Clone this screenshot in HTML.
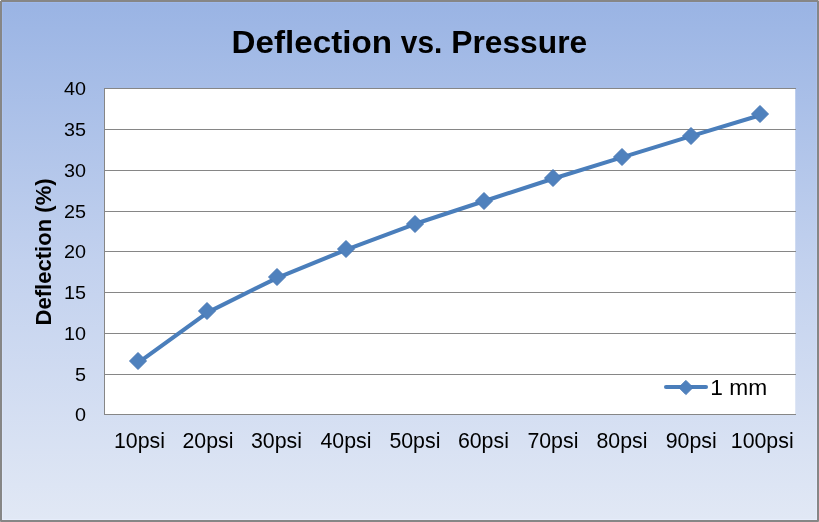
<!DOCTYPE html>
<html lang="en"><head><meta charset="utf-8"><title>Deflection vs. Pressure</title>
<style>
html,body{margin:0;padding:0;background:#fff;}
body{width:819px;height:522px;overflow:hidden;font-family:"Liberation Sans",sans-serif;}
svg{display:block}
text{font-family:"Liberation Sans",sans-serif;fill:#000}
</style></head><body>
<svg width="819" height="522" viewBox="0 0 819 522">
<defs>
<linearGradient id="bg" x1="0" y1="0" x2="0" y2="1">
<stop offset="0" stop-color="#9ab4e4"/>
<stop offset="0.5" stop-color="#c2d1ee"/>
<stop offset="1" stop-color="#e1e8f5"/>
</linearGradient>
<linearGradient id="hl" x1="0" y1="0" x2="0" y2="1">
<stop offset="0" stop-color="#9fb9ea"/>
<stop offset="0.5" stop-color="#c6d5f2"/>
<stop offset="1" stop-color="#e6edfb"/>
</linearGradient>
</defs>
<rect x="0" y="0" width="819" height="522" fill="#868686"/>
<rect x="0" y="0" width="1" height="1" fill="#f0f0f0"/>
<rect x="818" y="0" width="1" height="1" fill="#c8c8c8"/>
<rect x="0" y="521" width="1" height="1" fill="#a0a0a0"/>
<rect x="818" y="521" width="1" height="1" fill="#a0a0a0"/>
<rect x="2" y="2" width="815" height="518" fill="url(#hl)"/>
<rect x="3" y="3" width="813" height="516" fill="url(#bg)"/>
<rect x="104" y="88" width="691.25" height="327" fill="#fff"/>
<line x1="104" y1="88.5" x2="796" y2="88.5" stroke="#868686" stroke-width="1"/>
<line x1="104" y1="129.5" x2="796" y2="129.5" stroke="#868686" stroke-width="1"/>
<line x1="104" y1="170.5" x2="796" y2="170.5" stroke="#868686" stroke-width="1"/>
<line x1="104" y1="211.5" x2="796" y2="211.5" stroke="#868686" stroke-width="1"/>
<line x1="104" y1="251.5" x2="796" y2="251.5" stroke="#868686" stroke-width="1"/>
<line x1="104" y1="292.5" x2="796" y2="292.5" stroke="#868686" stroke-width="1"/>
<line x1="104" y1="333.5" x2="796" y2="333.5" stroke="#868686" stroke-width="1"/>
<line x1="104" y1="374.5" x2="796" y2="374.5" stroke="#868686" stroke-width="1"/>
<line x1="104" y1="414.5" x2="796" y2="414.5" stroke="#868686" stroke-width="1"/>
<line x1="104.5" y1="88" x2="104.5" y2="415" stroke="#868686" stroke-width="1"/>
<polyline points="139.05,362.10 208.15,312.05 277.25,277.80 346.35,249.67 415.45,223.80 484.55,200.93 553.65,178.50 622.75,157.10 691.85,135.90 760.95,115.00" fill="none" stroke="#4a7ebb" stroke-width="4.1" stroke-linejoin="round" stroke-linecap="round"/>
<path d="M138.00,352.50 L146.50,361.00 L138.00,369.50 L129.50,361.00Z" fill="#4f81bd" stroke="#4878b6" stroke-width="1"/>
<path d="M207.00,302.50 L215.50,311.00 L207.00,319.50 L198.50,311.00Z" fill="#4f81bd" stroke="#4878b6" stroke-width="1"/>
<path d="M277.00,268.50 L285.50,277.00 L277.00,285.50 L268.50,277.00Z" fill="#4f81bd" stroke="#4878b6" stroke-width="1"/>
<path d="M346.00,240.50 L354.50,249.00 L346.00,257.50 L337.50,249.00Z" fill="#4f81bd" stroke="#4878b6" stroke-width="1"/>
<path d="M415.00,215.50 L423.50,224.00 L415.00,232.50 L406.50,224.00Z" fill="#4f81bd" stroke="#4878b6" stroke-width="1"/>
<path d="M484.00,192.50 L492.50,201.00 L484.00,209.50 L475.50,201.00Z" fill="#4f81bd" stroke="#4878b6" stroke-width="1"/>
<path d="M553.00,169.50 L561.50,178.00 L553.00,186.50 L544.50,178.00Z" fill="#4f81bd" stroke="#4878b6" stroke-width="1"/>
<path d="M622.00,148.50 L630.50,157.00 L622.00,165.50 L613.50,157.00Z" fill="#4f81bd" stroke="#4878b6" stroke-width="1"/>
<path d="M691.00,127.50 L699.50,136.00 L691.00,144.50 L682.50,136.00Z" fill="#4f81bd" stroke="#4878b6" stroke-width="1"/>
<path d="M760.00,105.50 L768.50,114.00 L760.00,122.50 L751.50,114.00Z" fill="#4f81bd" stroke="#4878b6" stroke-width="1"/>
<line x1="666" y1="387.05" x2="706" y2="387.05" stroke="#4a7ebb" stroke-width="4.1" stroke-linecap="round"/>
<path d="M685.90,380.40 L693.00,387.50 L685.90,394.60 L678.80,387.50Z" fill="#4f81bd" stroke="#4878b6" stroke-width="1"/>
<text id="leg" transform="translate(710.3,394.7) scale(1.02,1)" font-size="22.3">1 mm</text>
<text id="title" y="52.6" font-size="32" font-weight="bold" lengthAdjust="spacingAndGlyphs"><tspan x="231.5" textLength="160.5" lengthAdjust="spacingAndGlyphs">Deflection</tspan> <tspan x="400.8" textLength="41.5" lengthAdjust="spacingAndGlyphs">vs.</tspan> <tspan x="451.2" textLength="136" lengthAdjust="spacingAndGlyphs">Pressure</tspan></text>
<text class="yl" transform="translate(86,420.80) scale(1.1,1)" font-size="18" text-anchor="end">0</text>
<text class="yl" transform="translate(86,380.80) scale(1.1,1)" font-size="18" text-anchor="end">5</text>
<text class="yl" transform="translate(86,339.80) scale(1.1,1)" font-size="18" text-anchor="end">10</text>
<text class="yl" transform="translate(86,298.80) scale(1.1,1)" font-size="18" text-anchor="end">15</text>
<text class="yl" transform="translate(86,257.80) scale(1.1,1)" font-size="18" text-anchor="end">20</text>
<text class="yl" transform="translate(86,217.80) scale(1.1,1)" font-size="18" text-anchor="end">25</text>
<text class="yl" transform="translate(86,176.80) scale(1.1,1)" font-size="18" text-anchor="end">30</text>
<text class="yl" transform="translate(86,135.80) scale(1.1,1)" font-size="18" text-anchor="end">35</text>
<text class="yl" transform="translate(86,94.80) scale(1.1,1)" font-size="18" text-anchor="end">40</text>
<text class="xl" x="139.50" y="447.6" font-size="21.33" text-anchor="middle">10psi</text>
<text class="xl" x="208.00" y="447.6" font-size="21.33" text-anchor="middle">20psi</text>
<text class="xl" x="276.50" y="447.6" font-size="21.33" text-anchor="middle">30psi</text>
<text class="xl" x="346.00" y="447.6" font-size="21.33" text-anchor="middle">40psi</text>
<text class="xl" x="414.90" y="447.6" font-size="21.33" text-anchor="middle">50psi</text>
<text class="xl" x="483.40" y="447.6" font-size="21.33" text-anchor="middle">60psi</text>
<text class="xl" x="552.90" y="447.6" font-size="21.33" text-anchor="middle">70psi</text>
<text class="xl" x="622.00" y="447.6" font-size="21.33" text-anchor="middle">80psi</text>
<text class="xl" x="691.20" y="447.6" font-size="21.33" text-anchor="middle">90psi</text>
<text class="xl" x="762.20" y="447.6" font-size="21.33" text-anchor="middle">100psi</text>
<text id="yt" transform="translate(51,251.9) rotate(-90) scale(1.041,1)" font-size="21.2" font-weight="bold" text-anchor="middle">Deflection (%)</text>
</svg>
</body></html>
